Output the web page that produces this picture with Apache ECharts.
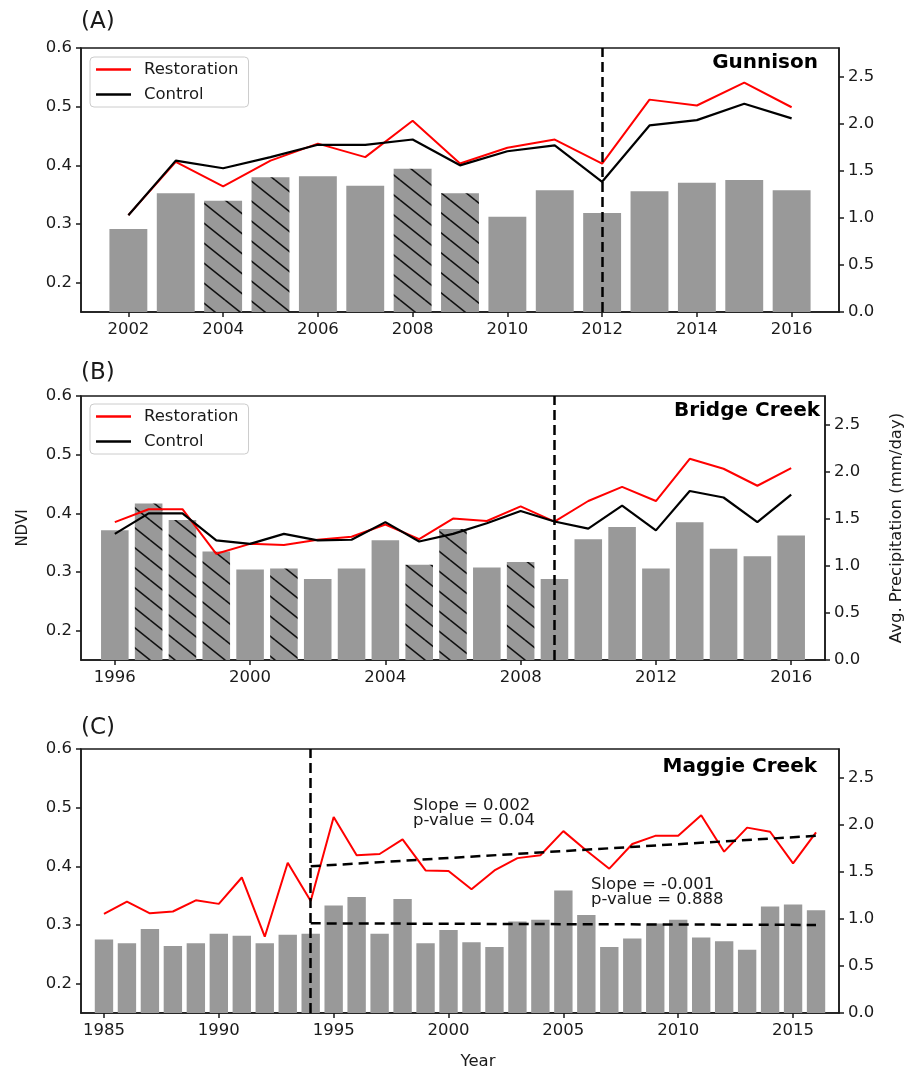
<!DOCTYPE html>
<html><head><meta charset="utf-8">
<script src="https://cdn.jsdelivr.net/npm/echarts@6/dist/echarts.min.js"></script>
<style>html,body{margin:0;padding:0;background:#fff}#c{width:913px;height:1071px}</style>
</head><body><div id="c"></div>
<script>
// ---------- Panel A: Gunnison ----------
const yearsA = [2002,2003,2004,2005,2006,2007,2008,2009,2010,2011,2012,2013,2014,2015,2016];
const precipA = [0.88,1.26,1.18,1.43,1.44,1.34,1.52,1.26,1.01,1.29,1.05,1.28,1.37,1.40,1.29];
const hatchedA = [2004,2005,2008,2009];
const restA = [0.315,0.406,0.364,0.408,0.437,0.414,0.476,0.403,0.430,0.444,0.403,0.512,0.502,0.541,0.499];
const ctrlA = [0.315,0.408,0.395,0.414,0.435,0.435,0.444,0.400,0.424,0.434,0.372,0.468,0.477,0.505,0.480];
const xTicksA = [2002,2004,2006,2008,2010,2012,2014,2016];
const eventA = 2012;

// ---------- Panel B: Bridge Creek ----------
const yearsB = [1996,1997,1998,1999,2000,2001,2002,2003,2004,2005,2006,2007,2008,2009,2010,2011,2012,2013,2014,2015,2016];
const precipB = [1.375,1.66,1.485,1.15,0.96,0.97,0.86,0.97,1.27,1.01,1.39,0.98,1.04,0.86,1.28,1.41,0.97,1.46,1.18,1.10,1.32];
const hatchedB = [1997,1998,1999,2001,2005,2006,2008];
const restB = [0.385,0.407,0.407,0.331,0.348,0.346,0.355,0.360,0.381,0.356,0.391,0.387,0.412,0.386,0.421,0.445,0.421,0.493,0.476,0.447,0.477];
const ctrlB = [0.365,0.400,0.400,0.354,0.348,0.365,0.354,0.355,0.385,0.352,0.365,0.383,0.404,0.386,0.374,0.413,0.371,0.438,0.427,0.385,0.432];
const xTicksB = [1996,2000,2004,2008,2012,2016];
const eventB = 2009;

// ---------- Panel C: Maggie Creek ----------
const yearsC = [1985,1986,1987,1988,1989,1990,1991,1992,1993,1994,1995,1996,1997,1998,1999,2000,
                2001,2002,2003,2004,2005,2006,2007,2008,2009,2010,2011,2012,2013,2014,2015,2016];
const precipC = [0.78,0.74,0.89,0.71,0.74,0.84,0.82,0.74,0.83,0.84,1.14,1.23,0.84,1.21,0.74,0.88,
                 0.75,0.70,0.97,0.99,1.30,1.04,0.70,0.79,0.95,0.99,0.80,0.76,0.67,1.13,1.15,1.09];
const restC = [0.319,0.340,0.320,0.323,0.342,0.336,0.381,0.280,0.406,0.341,0.484,0.419,0.421,0.446,0.393,0.392,
               0.361,0.393,0.414,0.419,0.460,0.427,0.396,0.438,0.452,0.452,0.487,0.425,0.466,0.459,0.405,0.458];
const trendNdviC = [[1994,0.400],[2016,0.452]];
const trendPrecipC = [[1994,0.951],[2016,0.934]];
const xTicksC = [1985,1990,1995,2000,2005,2010,2015];
const eventC = 1994;

// ---------- shared axis ticks ----------
const ndviTicks = [0.2,0.3,0.4,0.5,0.6];
const precipTicks = [0,0.5,1.0,1.5,2.0,2.5];

const FONT = 'DejaVu Sans';
const INK = '#1a1a1a';
const RED = '#ff0000';
const BAR = '#999999';

function makeHatch() {
  const w = 25, h = 20;
  const cv = document.createElement('canvas');
  cv.width = w; cv.height = h;
  const g = cv.getContext('2d');
  g.fillStyle = BAR; g.fillRect(0, 0, w, h);
  g.strokeStyle = '#111111'; g.lineWidth = 1.6;
  for (const dx of [-w, 0, w]) {
    for (const dy of [-h, 0, h]) {
      g.beginPath(); g.moveTo(dx, dy); g.lineTo(dx + w, dy + h); g.stroke();
    }
  }
  return cv;
}
const hatchImg = makeHatch();

const grids = [
  {left: 81, top: 48, width: 758, height: 264},
  {left: 81, top: 396, width: 758, height: 264},
  {left: 81, top: 749, width: 758, height: 264}
];
const xRanges = [[2001, 2017], [1995, 2017], [1984, 2017]];

const axisLineStyle = {color: INK, width: 1.5};
const labelStyle = {fontFamily: FONT, fontSize: 16.5, color: INK};

const xAxes = [], yAxes = [], series = [];
const panels = [
  {years: yearsA, precip: precipA, hatched: hatchedA, rest: restA, ctrl: ctrlA, ticks: xTicksA, event: eventA},
  {years: yearsB, precip: precipB, hatched: hatchedB, rest: restB, ctrl: ctrlB, ticks: xTicksB, event: eventB},
  {years: yearsC, precip: precipC, hatched: [], rest: restC, ctrl: null, ticks: xTicksC, event: eventC}
];

panels.forEach((p, i) => {
  const [xmin, xmax] = xRanges[i];
  xAxes.push({
    type: 'value', gridIndex: i, min: xmin, max: xmax,
    axisLine: {show: true, onZero: false, lineStyle: axisLineStyle},
    axisTick: {show: true, length: 5, lineStyle: axisLineStyle, customValues: p.ticks},
    axisLabel: Object.assign({margin: 9, customValues: p.ticks, formatter: v => String(v)}, labelStyle),
    splitLine: {show: false},
    name: i === 2 ? 'Year' : '',
    nameLocation: 'middle', nameGap: 40,
    nameTextStyle: {fontFamily: FONT, fontSize: 16.5, color: INK, padding: [0, 0, 0, 36]}
  });
  yAxes.push({
    type: 'value', gridIndex: i, position: 'left', min: 0.15, max: 0.6,
    axisLine: {show: true, lineStyle: axisLineStyle},
    axisTick: {show: true, length: 5, lineStyle: axisLineStyle, customValues: ndviTicks},
    axisLabel: Object.assign({margin: 9, customValues: ndviTicks, formatter: v => v.toFixed(1)}, labelStyle),
    splitLine: {show: false},
    name: i === 1 ? 'NDVI' : '', nameLocation: 'middle', nameGap: 50, nameRotate: 90,
    nameTextStyle: {fontFamily: FONT, fontSize: 15, color: INK}
  });
  yAxes.push({
    type: 'value', gridIndex: i, position: 'right', min: 0, max: 2.8,
    axisLine: {show: true, lineStyle: axisLineStyle},
    axisTick: {show: true, length: 5, lineStyle: axisLineStyle, customValues: precipTicks},
    axisLabel: Object.assign({margin: 9, customValues: precipTicks, formatter: v => v.toFixed(1)}, labelStyle),
    splitLine: {show: false},
    name: i === 1 ? 'Avg. Precipitation (mm/day)' : '', nameLocation: 'middle', nameGap: 63, nameRotate: 90,
    nameTextStyle: {fontFamily: FONT, fontSize: 16.5, color: INK}
  });

  const barW = grids[i].width / (xmax - xmin) * 0.8;
  series.push({
    type: 'bar', name: 'Precipitation', xAxisIndex: i, yAxisIndex: 2 * i + 1, z: 1,
    barWidth: barW,
    itemStyle: {color: BAR},
    data: p.years.map((y, k) => p.hatched.includes(y)
      ? {value: [y, p.precip[k]], itemStyle: {color: {image: hatchImg, repeat: 'repeat'}}}
      : {value: [y, p.precip[k]]})
  });
  const mark = {
    silent: true, symbol: ['none', 'none'], label: {show: false},
    lineStyle: {color: '#000', width: 2.5, type: [10, 5]},
    data: [{xAxis: p.event}]
  };
  series.push({
    type: 'line', name: 'Restoration', xAxisIndex: i, yAxisIndex: 2 * i, z: 3,
    symbol: 'none', color: RED, lineStyle: {color: RED, width: 2}, itemStyle: {color: RED},
    data: p.years.map((y, k) => [y, p.rest[k]]),
    markLine: p.ctrl ? undefined : mark
  });
  if (p.ctrl) {
    series.push({
      type: 'line', name: 'Control', xAxisIndex: i, yAxisIndex: 2 * i, z: 3,
      symbol: 'none', color: '#000', lineStyle: {color: '#000', width: 2.2}, itemStyle: {color: '#000'},
      data: p.years.map((y, k) => [y, p.ctrl[k]]),
      markLine: mark
    });
  }
});

// Trend lines for panel C
series.push({
  type: 'line', name: 'NDVI trend', xAxisIndex: 2, yAxisIndex: 4, z: 4, symbol: 'none',
  lineStyle: {color: '#000', width: 2.5, type: [10, 6]}, data: trendNdviC
});
series.push({
  type: 'line', name: 'Precipitation trend', xAxisIndex: 2, yAxisIndex: 5, z: 4, symbol: 'none',
  lineStyle: {color: '#000', width: 2.5, type: [10, 6]}, data: trendPrecipC
});

const legendBase = {
  orient: 'vertical', left: 90, data: ['Restoration', 'Control'],
  icon: 'rect', itemWidth: 35, itemHeight: 2.5, itemGap: 8,
  backgroundColor: 'rgba(255,255,255,0.85)', borderColor: '#cccccc', borderWidth: 1, borderRadius: 4,
  padding: [4, 10, 4, 6], selectedMode: false,
  textStyle: {fontFamily: FONT, fontSize: 16.5, color: INK, padding: [0, 0, 0, 8]}
};

function txt(text, x, y, size, opts) {
  return {type: 'text', x: x, y: y, silent: true,
    style: Object.assign({text: text, fill: INK, font: 'normal ' + size + 'px "' + FONT + '"',
      textAlign: 'left', textVerticalAlign: 'middle'}, opts || {})};
}
const boldFont = 'bold 20px "' + FONT + '"';

const option = {
  animation: false,
  backgroundColor: '#ffffff',
  grid: grids.map(g => Object.assign({show: true, borderColor: INK, borderWidth: 1.5, backgroundColor: 'transparent'}, g)),
  xAxis: xAxes,
  yAxis: yAxes,
  legend: [Object.assign({top: 57}, legendBase), Object.assign({top: 404}, legendBase)],
  series: series,
  graphic: [
    txt('(A)', 81, 22, 23),
    txt('(B)', 81, 373, 23),
    txt('(C)', 81, 728, 23),
    txt('Gunnison', 818, 63, 20, {font: boldFont, textAlign: 'right', fill: '#000'}),
    txt('Bridge Creek', 820, 411, 20, {font: boldFont, textAlign: 'right', fill: '#000'}),
    txt('Maggie Creek', 817, 767, 20, {font: boldFont, textAlign: 'right', fill: '#000'}),
    txt('Slope = 0.002', 413, 806, 16.5),
    txt('p-value = 0.04', 413, 821, 16.5),
    txt('Slope = -0.001', 591, 885, 16.5),
    txt('p-value = 0.888', 591, 900, 16.5)
  ]
};

const chart = echarts.init(document.getElementById('c'), null, {renderer: 'canvas'});
chart.setOption(option);
</script>
</body></html>
